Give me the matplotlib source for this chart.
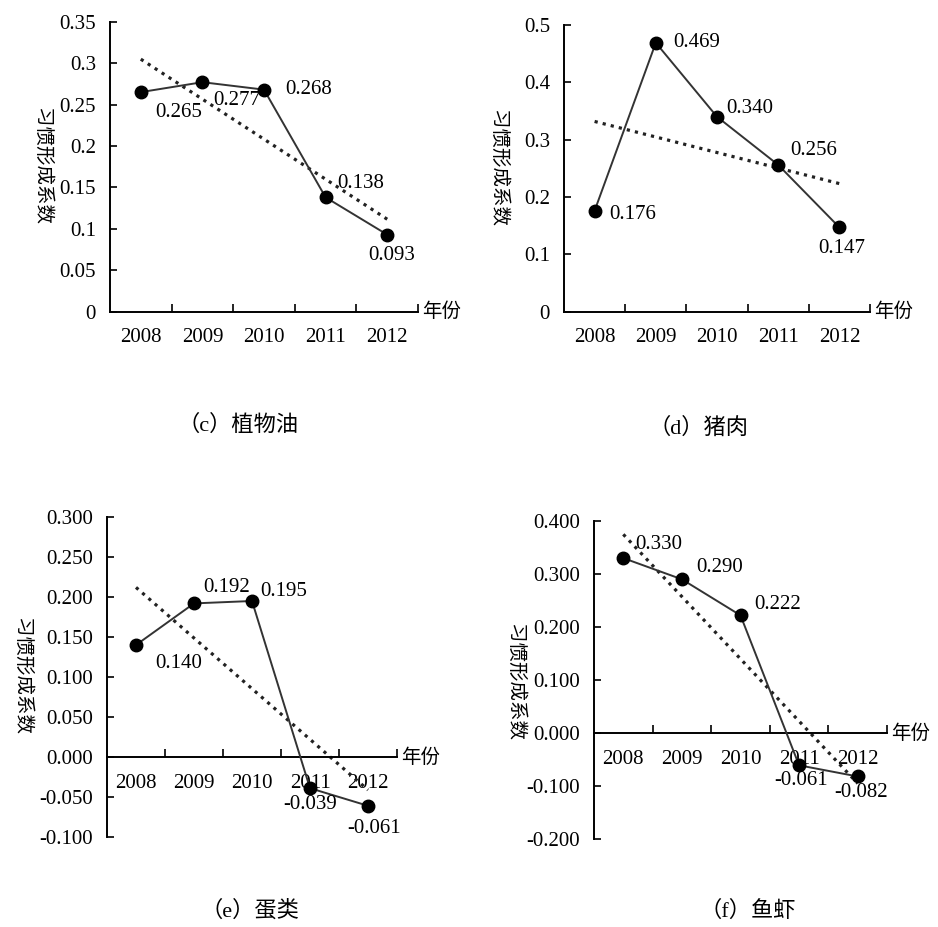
"""
Habit formation coefficients 2008-2012, four panels (c)-(f)
-- line with dots, dotted linear trend, data labels
"""

import numpy as np
import matplotlib.pyplot as plt

W, H = 938, 927

years = ["2008", "2009", "2010", "2011", "2012"]

oil = [0.265, 0.277, 0.268, 0.138, 0.093]
pork = [0.176, 0.469, 0.340, 0.256, 0.147]
eggs = [0.140, 0.192, 0.195, -0.039, -0.061]
fish = [0.330, 0.290, 0.222, -0.061, -0.082]

oil_ticks = [0, 0.05, 0.1, 0.15, 0.2, 0.25, 0.3, 0.35]
oil_ticklabels = ["0", "0.05", "0.1", "0.15", "0.2", "0.25", "0.3", "0.35"]
pork_ticks = [0, 0.1, 0.2, 0.3, 0.4, 0.5]
pork_ticklabels = ["0", "0.1", "0.2", "0.3", "0.4", "0.5"]
eggs_ticks = [-0.1, -0.05, 0, 0.05, 0.1, 0.15, 0.2, 0.25, 0.3]
eggs_ticklabels = ["-0.100", "-0.050", "0.000", "0.050", "0.100",
                   "0.150", "0.200", "0.250", "0.300"]
fish_ticks = [-0.2, -0.1, 0, 0.1, 0.2, 0.3, 0.4]
fish_ticklabels = ["-0.200", "-0.100", "0.000", "0.100", "0.200", "0.300", "0.400"]

captions = ["（c）植物油", "（d）猪肉", "（e）蛋类", "（f）鱼虾"]
ylabel = "习惯形成系数"
xlabel = "年份"

SERIF = "Liberation Serif"
CJK = "Noto Sans CJK SC"

# layout in pixels: axes box (left, right, top, bottom), ylabel x/y, caption x/y,
# and label offsets (px, right / down) for every point
panels = [
    dict(vals=oil, ticks=oil_ticks, labels=oil_ticklabels, box=(110, 418, 21.7, 311.7),
         ylab=(42, 167), cap=(238, 425),
         offs=[(38, 20), (34, 18), (45, 0), (35, -14), (4, 21)]),
    dict(vals=pork, ticks=pork_ticks, labels=pork_ticklabels, box=(564, 870, 25, 311.7),
         ylab=(498, 168), cap=(699, 428),
         offs=[(38, 4), (41, 0), (33, -8), (35, -14), (2, 21)]),
    dict(vals=eggs, ticks=eggs_ticks, labels=eggs_ticklabels, box=(107, 397, 517, 837),
         ylab=(22, 677), cap=(250, 911),
         offs=[(43, 18), (33, -16), (32, -9), (0, 16), (6, 23)]),
    dict(vals=fish, ticks=fish_ticks, labels=fish_ticklabels, box=(594, 887, 521, 839),
         ylab=(515, 683), cap=(748, 911),
         offs=[(35, -14), (38, -12), (37, -11), (2, 15), (3, 16)]),
]

fig = plt.figure(figsize=(W / 100, H / 100), dpi=100)


def draw_panel(p, caption):
    left, right, top, bottom = p["box"]
    ax = fig.add_axes([left / W, 1 - bottom / H, (right - left) / W, (bottom - top) / H])

    x = np.arange(len(years))
    vals = np.array(p["vals"])

    # series and dots
    ax.plot(x, vals, color="#333333", lw=1.4, zorder=3)
    ax.plot(x, vals, "o", color="black", ms=9, zorder=4)

    # linear trend
    k, b = np.polyfit(x, vals, 1)
    ax.plot(x, k * x + b, color="#222222", lw=2.3, ls=(0, (1, 1.6)), zorder=2)

    # data labels
    for xi, v, (dx, dy) in zip(x, vals, p["offs"]):
        ax.annotate(f"{v:.3f}", (xi, v), xytext=(dx, -dy), textcoords="offset pixels",
                    ha="center", va="center", fontsize=15, family=SERIF, zorder=5)

    ax.set_xlim(-0.5, len(years) - 0.5)
    ax.set_ylim(p["ticks"][0], p["ticks"][-1])

    ax.spines[["top", "right"]].set_visible(False)
    ax.spines["bottom"].set_position(("data", 0))
    for s in ("left", "bottom"):
        ax.spines[s].set_linewidth(1.4)

    ax.set_yticks(p["ticks"], p["labels"])
    ax.set_xticks(x + 0.5, [])
    ax.set_xticks(x, years, minor=True)
    ax.tick_params(axis="y", direction="in", length=5, width=1.2, pad=10)
    ax.tick_params(axis="x", which="major", direction="in", length=6, width=1.2)
    ax.tick_params(axis="x", which="minor", length=0, pad=12)
    for t in ax.get_yticklabels() + ax.get_xticklabels(minor=True):
        t.set_fontfamily(SERIF)
        t.set_fontsize(15)

    # axis title at end of x axis
    ax.annotate(xlabel, (len(years) - 0.5, 0), xytext=(4, 0), textcoords="offset pixels",
                ha="left", va="center", fontsize=14, family=CJK, annotation_clip=False)

    fig.text(p["ylab"][0] / W, 1 - p["ylab"][1] / H, ylabel, rotation=270,
             ha="center", va="center", fontsize=14, family=CJK)
    fig.text(p["cap"][0] / W, 1 - p["cap"][1] / H, caption, ha="center", va="center",
             fontsize=16, family=[SERIF, CJK])
    return ax


for p, cap in zip(panels, captions):
    draw_panel(p, cap)

fig.savefig("out.png", dpi=100)
